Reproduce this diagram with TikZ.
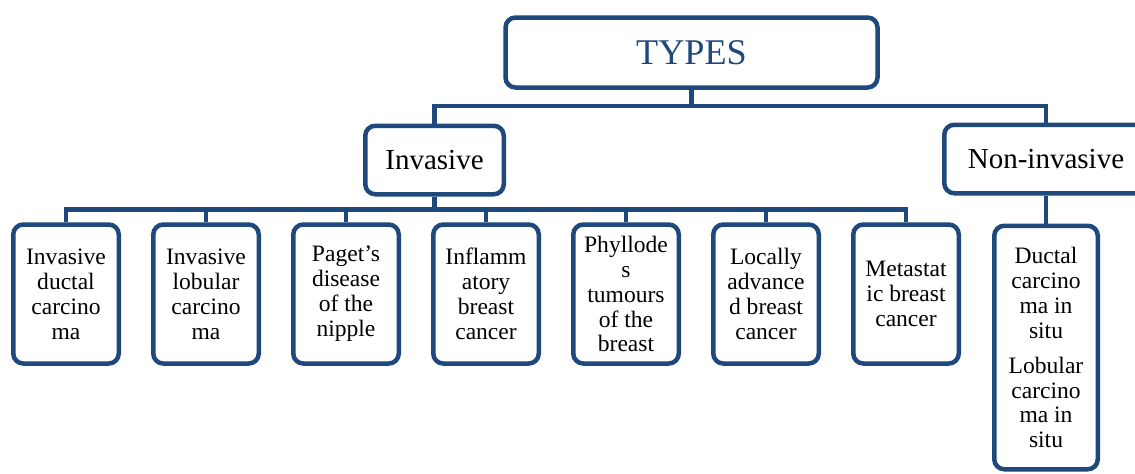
\documentclass[tikz,border=0pt]{standalone}
\usepackage{fontspec}
\setmainfont{Liberation Serif}
\usetikzlibrary{positioning}
\definecolor{boxblue}{RGB}{31,73,125}

\begin{document}
\begin{tikzpicture}[node distance=0.6cm]
% Define styles
\tikzstyle{topbox} = [rectangle, rounded corners=0.2cm, minimum width=7.44cm, minimum height=1.4cm, text centered, draw=boxblue, line width=0.09cm, text=boxblue, font=\fontsize{20.6}{24}\selectfont]
\tikzstyle{groupbox} = [rectangle, rounded corners=0.2cm, minimum height=1.37cm, text centered, draw=boxblue, line width=0.09cm, font=\fontsize{16.5}{19}\selectfont]
\tikzstyle{leafbox} = [rectangle, rounded corners=0.2cm, minimum width=2.11cm, minimum height=2.78cm, inner sep=2pt, align=center, draw=boxblue, line width=0.09cm, font=\fontsize{13.4}{14.2}\selectfont]
\tikzstyle{link} = [draw=boxblue, line width=0.09cm]

\clip (0,0) rectangle (22.7,-9.46);

% Draw nodes
\node (types) [topbox] at (13.83,-1.05) {TYPES};
\node (invasive) [groupbox, minimum width=2.77cm] at (8.69,-3.2) {Invasive};
\node (noninv) [groupbox, minimum width=4.07cm] at (20.92,-3.18) {Non-invasive};

\node (idc) [leafbox] at (1.32,-5.88) {Invasive\\ductal\\carcino\\ma};
\node (ilc) [leafbox, right=of idc] {Invasive\\lobular\\carcino\\ma};
\node (paget) [leafbox, right=of ilc] {Paget’s\\disease\\of the\\nipple};
\node (ibc) [leafbox, right=of paget] {Inflamm\\atory\\breast\\cancer};
\node (phyl) [leafbox, right=of ibc] {Phyllode\\s\\tumours\\of the\\breast};
\node (labc) [leafbox, right=of phyl] {Locally\\advance\\d breast\\cancer};
\node (mbc) [leafbox, right=of labc] {Metastat\\ic breast\\cancer};

\node (insitu) [leafbox, minimum width=2.07cm, minimum height=4.87cm, below=0.56cm of noninv] {Ductal\\carcino\\ma in\\situ\\[5.7pt]Lobular\\carcino\\ma in\\situ};

% Draw connectors
\draw [link] (types.south) -- ++(0,-0.32) -| (invasive.north);
\draw [link] (types.south) -- ++(0,-0.32) -| (noninv.north);
\foreach \leaf in {idc,ilc,paget,ibc,phyl,labc,mbc}
  \draw [link] (invasive.south) -- ++(0,-0.26) -| (\leaf.north);
\draw [link] (noninv) -- (insitu);
\end{tikzpicture}
\end{document}
